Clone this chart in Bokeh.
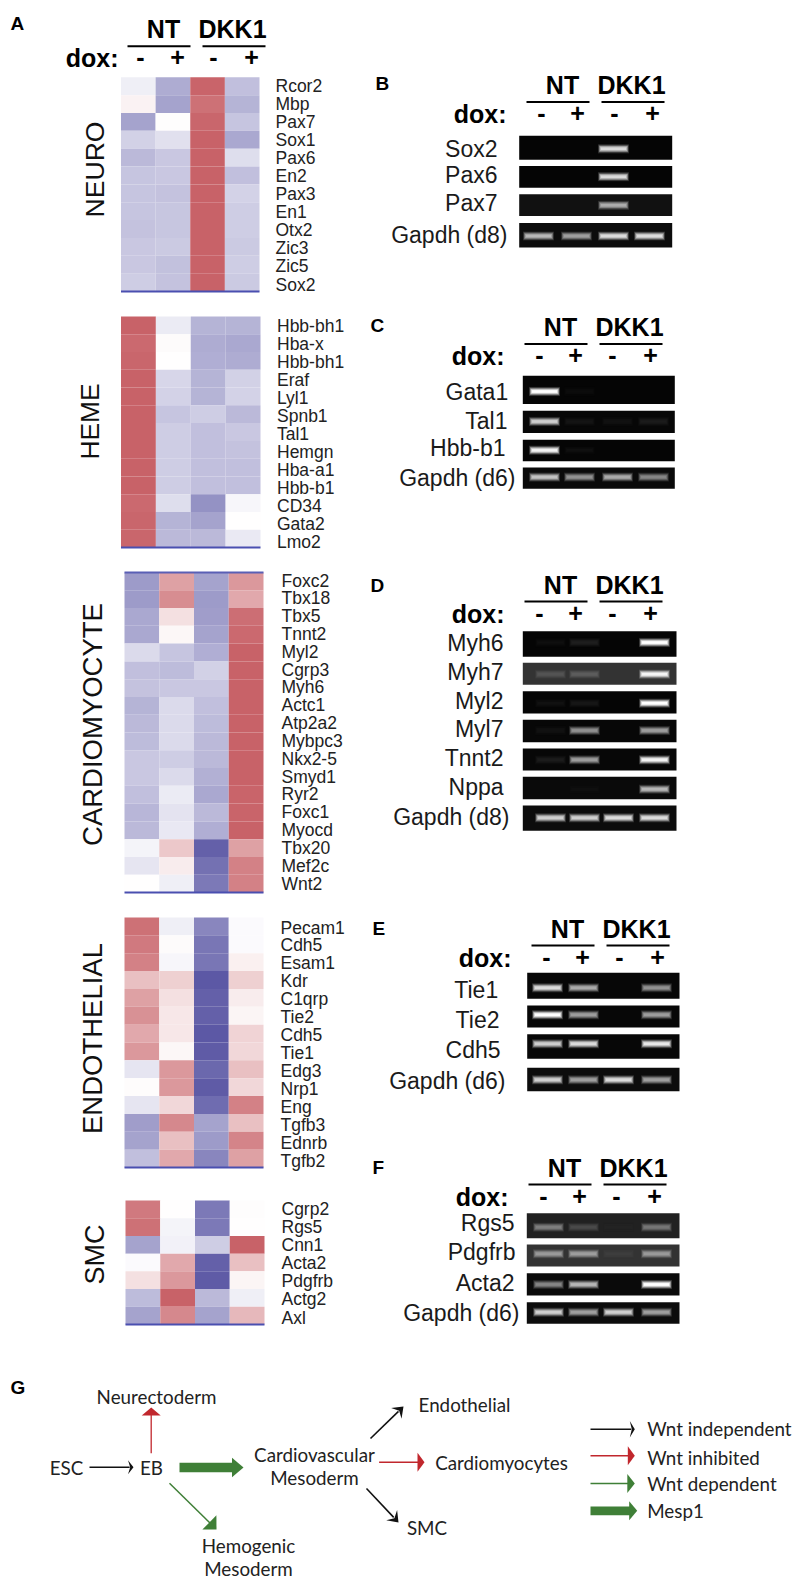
import numpy as np
from bokeh.plotting import figure
from bokeh.models import Range1d, LinearColorMapper, ColumnDataSource
from bokeh.core.properties import value
from bokeh.embed import file_html
from bokeh.resources import INLINE

# ---------- heatmap data (blue -1 .. white 0 .. red +1), columns NT-, NT+, DKK1-, DKK1+
neuro_genes = ["Rcor2","Mbp","Pax7","Sox1","Pax6","En2","Pax3","En1","Otx2","Zic3","Zic5","Sox2"]
neuro_vals = [[-.10,-.50,.98,-.38],[.08,-.55,.90,-.45],[-.55,.01,.97,-.35],[-.28,-.18,1,-.52],
              [-.42,-.33,1,-.20],[-.35,-.33,1,-.38],[-.35,-.36,1,-.27],[-.35,-.34,1,-.30],
              [-.36,-.34,1,-.30],[-.33,-.32,1,-.32],[-.33,-.37,1,-.30],[-.30,-.36,1,-.32]]
heme_genes = ["Hbb-bh1","Hba-x","Hbb-bh1","Eraf","Lyl1","Spnb1","Tal1","Hemgn","Hba-a1","Hbb-b1","CD34","Gata2","Lmo2"]
heme_vals = [[1,-.12,-.45,-.45],[.95,.03,-.50,-.52],[.97,0,-.48,-.50],[1,-.25,-.45,-.28],
             [1,-.27,-.45,-.27],[1,-.35,-.30,-.42],[1,-.30,-.38,-.33],[1,-.30,-.38,-.36],
             [1,-.30,-.38,-.38],[1,-.30,-.38,-.38],[.95,-.20,-.65,-.05],[.97,-.45,-.55,0],[.97,-.42,-.42,-.13]]
cardio_genes = ["Foxc2","Tbx18","Tbx5","Tnnt2","Myl2","Cgrp3","Myh6","Actc1","Atp2a2","Mybpc3","Nkx2-5",
                "Smyd1","Ryr2","Foxc1","Myocd","Tbx20","Mef2c","Wnt2"]
cardio_vals = [[-.60,.60,-.55,.65],[-.60,.72,-.60,.55],[-.52,.20,-.58,.92],[-.52,.05,-.55,.95],
               [-.22,-.35,-.48,1],[-.38,-.40,-.28,1],[-.36,-.33,-.33,1],[-.45,-.22,-.38,1],
               [-.42,-.22,-.40,1],[-.40,-.22,-.42,1],[-.33,-.30,-.42,1],[-.33,-.22,-.47,1],
               [-.38,-.12,-.52,.98],[-.43,-.17,-.42,.98],[-.42,-.14,-.48,1],[-.07,.35,-.95,.60],
               [-.15,.12,-.85,.80],[0,-.10,-.80,.80]]
endo_genes = ["Pecam1","Cdh5","Esam1","Kdr","C1qrp","Tie2","Cdh5","Tie1","Edg3","Nrp1","Eng","Tgfb3","Ednrb","Tgfb2"]
endo_vals = [[.90,-.10,-.72,-.03],[.85,.03,-.82,-.03],[.80,-.05,-.82,.10],[.40,.30,-1,.30],
             [.60,.20,-.95,.12],[.70,.15,-.95,.07],[.55,.15,-1,.28],[.65,.05,-.98,.25],
             [-.15,.65,-.90,.40],[.02,.65,-.98,.25],[-.15,.25,-.88,.80],[-.58,.75,-.55,.40],
             [-.55,.40,-.60,.78],[-.38,.55,-.72,.60]]
smc_genes = ["Cgrp2","Rgs5","Cnn1","Acta2","Pdgfrb","Actg2","Axl"]
smc_vals = [[.85,0,-.80,.01],[.90,-.07,-.80,0],[-.55,-.08,-.30,1],[-.03,.55,-.95,.40],
            [.20,.65,-.98,.07],[-.40,1,-.42,-.10],[-.55,.75,-.55,.45]]

# ---------- gel data: label, background level, band intensity per lane
b_genes = ["Sox2","Pax6","Pax7","Gapdh (d8)"]
b_bg = [.02,.02,.07,.05]
b_bands = [[0,0,.85,0],[0,0,.85,0],[0,0,.65,0],[.70,.60,.85,.85]]
c_genes = ["Gata1","Tal1","Hbb-b1","Gapdh (d6)"]
c_bg = [.02,.03,.02,.04]
c_bands = [[1,.03,0,0],[.80,.05,.04,.08],[.95,.04,0,0],[.75,.55,.65,.50]]
d_genes = ["Myh6","Myh7","Myl2","Myl7","Tnnt2","Nppa","Gapdh (d8)"]
d_bg = [.02,.20,.02,.03,.03,.04,.05]
d_bands = [[.04,.10,0,1],[.16,.20,0,.95],[.05,.07,0,1],[.04,.55,0,.60],[.08,.60,0,.95],[0,.02,0,.70],[.80,.80,.85,.85]]
e_genes = ["Tie1","Tie2","Cdh5","Gapdh (d6)"]
e_bg = [.03,.03,.03,.05]
e_bands = [[.85,.65,0,.55],[1,.60,0,.60],[.80,.85,0,.90],[.80,.60,.85,.60]]
f_genes = ["Rgs5","Pdgfrb","Acta2","Gapdh (d6)"]
f_bg = [.13,.20,.04,.05]
f_bands = [[.42,.18,.01,.38],[.50,.52,.05,.50],[.50,.70,0,1],[.80,.60,.80,.60]]

group_titles = ["NEURO","HEME","CARDIOMYOCYTE","ENDOTHELIAL","SMC"]
treatments = ["NT","DKK1"]
dox_signs = ["-","+","-","+"]
legend_labels = ["Wnt independent","Wnt inhibited","Wnt dependent","Mesp1"]

# ---------- layout in page pixels
p = figure(width=800, height=1586, x_range=Range1d(0,800), y_range=Range1d(1586,0),
           x_axis_type=None, y_axis_type=None, toolbar_location=None, output_backend="svg",
           min_border=0, outline_line_color=None, background_fill_color="white", border_fill_color="white")

SANS = "Liberation Sans"
def txt(x,y,s,size,align="left",bold=False,color="#000000",font=SANS,angle=0):
    p.text([x],[y],text=[s],text_font=value(font),text_font_size=f"{size}px",text_align=align,
           text_baseline="middle",text_color=color,angle=angle,
           text_font_style="bold" if bold else "normal")

def lerp(a,b,t): return a+(b-a)*t
BLUE,WHITE,RED=(92,88,165),(255,255,255),(200,98,104)
pal=[]
for i in range(256):
    t=i/255*2-1
    end=RED if t>0 else BLUE
    c=[int(round(lerp(WHITE[k],end[k],abs(t)))) for k in range(3)]
    pal.append("#%02x%02x%02x"%tuple(c))
heat_map=LinearColorMapper(palette=pal,low=-1,high=1)
gray_map=LinearColorMapper(palette=["#%02x%02x%02x"%(g,g,g) for g in range(256)],low=0,high=1)

def heat(genes,vals,x0,x1,y0,y1,lx,ly0,ly1,top_line=False):
    vals=np.array(vals); n,m=vals.shape
    xs=np.linspace(x0,x1,m+1); ys=np.linspace(y0,y1,n+1)
    rr,cc=np.mgrid[0:n,0:m]
    src=ColumnDataSource(dict(l=xs[cc.ravel()],r=xs[cc.ravel()+1],t=ys[rr.ravel()],b=ys[rr.ravel()+1],v=vals.ravel()))
    p.quad(left="l",right="r",top="t",bottom="b",source=src,line_color=None,
           fill_color={"field":"v","transform":heat_map})
    p.segment([x0],[y1],[x1],[y1],line_color="#4a4fb0",line_width=2)
    if top_line: p.segment([x0],[y0],[x1],[y0],line_color="#5a5fb5",line_width=2)
    for g,y in zip(genes,np.linspace(ly0,ly1,n)):
        txt(lx,y,g,17.5,color="#222222")

heat(neuro_genes,neuro_vals,120.5,259,76.8,291,275,85.7,284)
heat(heme_genes,heme_vals,120.5,260,316,547,276.5,325,541)
heat(cardio_genes,cardio_vals,124,263,572,892,281,580,883,top_line=True)
heat(endo_genes,endo_vals,124,263,917,1167,280,927,1160)
heat(smc_genes,smc_vals,125,264,1200,1324,281,1208,1317)

title_pos=[(94,169,26.6),(89,421,26.4),(92,724,27.5),(92,1038,27.5),(94,1254,27)]
for s,(x,y,sz) in zip(group_titles,title_pos):
    txt(x,y,s,sz,align="center",angle=np.pi/2,color="#111111")

def header(x0,ly,dox_right,lane_off):
    p.segment([x0,x0+75],[ly,ly],[x0+63,x0+138],[ly,ly],line_color="#000000",line_width=2)
    txt(x0+36,ly-17,treatments[0],25,"center",True)
    txt(x0+105,ly-17,treatments[1],25,"center",True)
    txt(dox_right,ly+12,"dox:",25,"right",True)
    for o,s in zip(lane_off,dox_signs):
        txt(x0+o,ly+11,s,25,"center",True)

header(127,45.7,118,(13,50,86,124))

def gel(x0,x1,boxes,bg,bands,lanes,band_y,genes,lab_r,lab_y):
    layers=[(.12,31,4.6),(.28,30,4.0),(.48,29,3.3),(.68,28,2.7),(.85,27,2.0),(1.0,25,1.3)]
    src=ColumnDataSource(dict(l=[x0]*len(boxes),r=[x1]*len(boxes),t=[b[0] for b in boxes],
                              b=[b[1] for b in boxes],v=bg))
    p.quad(left="l",right="r",top="t",bottom="b",source=src,line_color=None,
           fill_color={"field":"v","transform":gray_map})
    for f,bw,hh in layers:
        xc,yc,v=[],[],[]
        for row,(ints,b) in enumerate(zip(bands,bg)):
            for lane,i in enumerate(ints):
                if i<=0: continue
                xc.append(lanes[lane]); yc.append(band_y[row]); v.append(b+(1-b)*i*f)
        s2=ColumnDataSource(dict(x=xc,y=yc,v=v))
        p.rect(x="x",y="y",width=bw,height=2*hh,source=s2,line_color=None,
               fill_color={"field":"v","transform":gray_map})
    for g,r,y in zip(genes,lab_r,lab_y):
        txt(r,y,g,23,"right",color="#1a1a1a")

# B
header(526,101.4,506,(15,51,88,126))
gel(518.7,671.7,[(135.2,159.3),(165.5,187.2),(193.8,215.5),(222.4,246.9)],b_bg,b_bands,(538,576,613,649),
    (148.3,176.2,204.8,235.5),b_genes,(497,497,497,507),(148.3,174.1,202.8,234.5))
# C
header(524,343.4,504,(15,51,88,126))
gel(522.3,674.3,[(375.2,403.4),(410.3,432.4),(439.3,460.7),(466.9,488.3)],c_bg,c_bands,(544,579,617,653),
    (391,421,449.7,476.6),c_genes,(507.7,507,505,515),(391.4,420,447.2,477.6))
# D
header(524,601,504,(15,51,88,126))
gel(522.3,676,[(630.7,656.3),(662.3,684.3),(690.7,713),(719.3,741.7),(748,770),(776.3,798.7),(805,830.3)],
    d_bg,d_bands,(550,584,618,654),(642,673.7,702.7,730,759.3,788.7,817.3),d_genes,
    (503,503,503,503,503,503,509),(642.7,671.7,700,728,757,786.7,816.7))
# E
header(531,945,511,(15,51,88,126))
gel(526.7,679,[(972.3,998.3),(1005,1027),(1033.7,1058.3),(1067.3,1090.7)],e_bg,e_bands,(547,583,618,656),
    (987.3,1014.3,1043.3,1079.3),e_genes,(497.7,499,500,505),(989,1019,1049,1080.7))
# F
header(528,1184,508,(15,51,88,126))
gel(526.3,679,[(1212.7,1237.7),(1244,1266),(1272.7,1295),(1301.7,1323.3)],f_bg,f_bands,(548,583,618,656),
    (1226.7,1253.3,1284,1311.7),f_genes,(514,515,514,519),(1222.7,1251.7,1282.3,1312.7))

for s,x,y in [("A",10,23),("B",375,82.8),("C",370,325.2),("D",370,585),("E",372,928),("F",372,1167),("G",10,1387)]:
    txt(x,y,s,19,bold=True)

# ---------- panel G
BLACK,REDA,GREEN="#111111","#c1272d","#3f7f37"
def arrow(x0,y0,x1,y1,color,w,hl,hw,notch=1.0):
    d=np.array([x1-x0,y1-y0],float); L=np.hypot(*d); u=d/L; n=np.array([-u[1],u[0]])
    tip=np.array([x1,y1],float); base=tip-u*hl; nt=tip-u*hl*notch
    sh=tip-u*hl*.7
    p.segment([x0],[y0],[sh[0]],[sh[1]],line_color=color,line_width=w)
    pts=[tip,base+n*hw,nt,base-n*hw]
    p.patch([q[0] for q in pts],[q[1] for q in pts],fill_color=color,line_color=None)

arrow(89,1466.7,133,1466.7,BLACK,1.6,5.5,7,.6)
arrow(150.7,1452.7,150.7,1407,REDA,1.3,8,9.5)
arrow(179,1467,243,1467,GREEN,9.5,11.5,9.7)
arrow(370,1438,403,1406,BLACK,1.6,10,7.5,.6)
arrow(378.6,1461.7,424,1461.7,REDA,1.4,7,9.5)
arrow(366,1488,398,1522,BLACK,1.6,10,7.5,.6)
arrow(169,1482.7,216,1529,GREEN,1.5,10,10)
arrow(590,1428.7,634.3,1428.7,BLACK,1.5,5,8.3,.6)
arrow(590,1455.3,634.3,1455.3,REDA,1.5,7,9.5)
arrow(590,1483,634.3,1483,GREEN,1.5,7.5,9.5)
arrow(590,1510.3,636.7,1510.3,GREEN,8.7,8,9.5)

DIA="Lato"
for s,x,y in [("Neurectoderm",156,1396),("Endothelial",464,1404),("ESC",66,1467),("EB",151,1467),
              ("Cardiovascular",314,1454),("Mesoderm",314,1477),("Cardiomyocytes",501,1462),("SMC",426.5,1527),
              ("Hemogenic",248,1545),("Mesoderm",248,1568)]:
    txt(x,y,s,18.8,"center",font=DIA,color="#222222")
for s,y in zip(legend_labels,(1428,1456.7,1483,1510)):
    txt(646.7,y,s,18.8,font=DIA,color="#222222")

open("out.html","w").write(file_html(p,INLINE))
